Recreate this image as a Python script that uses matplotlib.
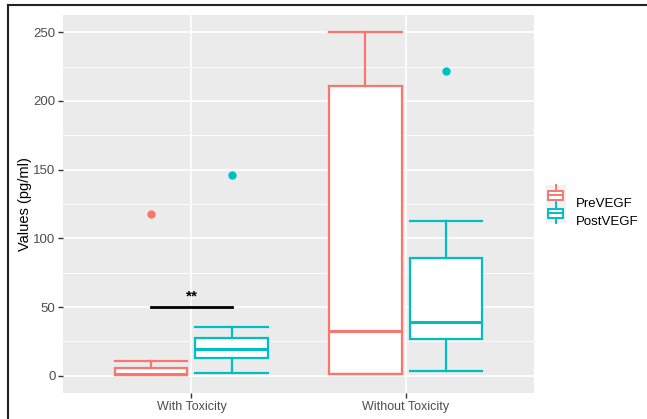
import numpy as np
import matplotlib.pyplot as plt
from matplotlib.lines import Line2D
from matplotlib.patches import Rectangle
from matplotlib.legend_handler import HandlerBase

plt.rcParams['font.family'] = ['Liberation Sans', 'DejaVu Sans']

groups = ["With Toxicity", "Without Toxicity"]
series = ["PreVEGF", "PostVEGF"]
colors = ["#F8766D", "#00BFC4"]

# box stats: low whisker, q1, median, q3, high whisker
pre_low = [0.5, 1.7]
pre_q1 = [0.8, 1.7]
pre_med = [1.5, 32.4]
pre_q3 = [6.0, 211]
pre_high = [10.5, 250]
pre_out = [[118], []]

post_low = [2.2, 3.4]
post_q1 = [13, 26.6]
post_med = [19.6, 39]
post_q3 = [27.5, 85.7]
post_high = [35.3, 113]
post_out = [[146], [222]]

sig_y = 50
sig_label = "**"


class BoxKey(HandlerBase):
    def __init__(self, color):
        super().__init__()
        self.color = color

    def create_artists(self, legend, orig, xd, yd, w, h, fs, trans):
        cx = xd + w / 2
        bg = Rectangle((xd, yd - 1.5), w, h + 3, facecolor="#F2F2F2", edgecolor="none", transform=trans)
        box = Rectangle((xd + w * 0.12, yd + h * 0.22), w * 0.76, h * 0.56, facecolor="white",
                        edgecolor=self.color, lw=1.4, transform=trans)
        med = Line2D([xd + w * 0.12, xd + w * 0.88], [yd + h / 2] * 2, color=self.color, lw=1.4, transform=trans)
        wt = Line2D([cx, cx], [yd + h * 0.78, yd + h + 1.5], color=self.color, lw=1.4, transform=trans)
        wb = Line2D([cx, cx], [yd - 1.5, yd + h * 0.22], color=self.color, lw=1.4, transform=trans)
        return [bg, wt, wb, box, med]


fig = plt.figure(figsize=(6.47, 4.19), dpi=100)
ax = fig.add_axes([0.0974, 0.062, 0.728, 0.902])
ax.set_facecolor("#EBEBEB")

x = np.arange(1, len(groups) + 1)
offset = 0.1875
width = 0.3375

def make_stats(lo, q1, med, q3, hi, out):
    return [dict(whislo=lo[i], q1=q1[i], med=med[i], q3=q3[i], whishi=hi[i], fliers=out[i])
            for i in range(len(lo))]

all_stats = [make_stats(pre_low, pre_q1, pre_med, pre_q3, pre_high, pre_out),
             make_stats(post_low, post_q1, post_med, post_q3, post_high, post_out)]

for k, (st, c) in enumerate(zip(all_stats, colors)):
    pos = x + (offset if k else -offset)
    ax.bxp(st, positions=pos, widths=width, patch_artist=True, manage_ticks=False,
           boxprops=dict(facecolor="white", edgecolor=c, lw=1.6),
           medianprops=dict(color=c, lw=2.2),
           whiskerprops=dict(color=c, lw=1.6),
           capprops=dict(color=c, lw=1.6),
           capwidths=width,
           flierprops=dict(marker="o", markerfacecolor=c, markeredgecolor=c, markersize=5),
           zorder=3)

# significance bar
ax.plot([x[0] - offset, x[0] + offset], [sig_y, sig_y], color="black", lw=2, zorder=4)
ax.text(x[0], sig_y + 3, sig_label, ha="center", va="bottom", fontsize=11, fontweight="bold")

ax.set_xlim(0.4, 2.6)
ax.set_ylim(-12.5, 262.5)
ax.set_yticks([0, 50, 100, 150, 200, 250])
ax.set_yticks([25, 75, 125, 175, 225], minor=True)
ax.set_xticks(x)
ax.set_xticklabels(groups)
ax.grid(True, which="major", color="white", lw=1.2)
ax.grid(True, which="minor", axis="y", color="white", lw=0.6)
ax.set_axisbelow(True)
for s in ax.spines.values():
    s.set_visible(False)
ax.tick_params(axis="both", which="major", length=3.5, width=1, color="#333333", labelcolor="#4D4D4D", pad=2)
ax.tick_params(axis="x", labelsize=9)
ax.tick_params(axis="y", labelsize=9.5)
ax.tick_params(axis="y", which="minor", length=0)
ax.set_ylabel("Values (pg/ml)", fontsize=10.5, labelpad=1)

handles = [Rectangle((0, 0), 1, 1) for _ in series]
ax.legend(handles, series, handler_map={h: BoxKey(c) for h, c in zip(handles, colors)},
          loc="center left", bbox_to_anchor=(1.0, 0.48), frameon=False, fontsize=9.5,
          handlelength=1.5, handleheight=1.5, labelspacing=0.15, handletextpad=0.8)

# page border (left and top)
fig.add_artist(Line2D([0.013, 0.013], [0, 0.988], color="#222222", lw=1.5, transform=fig.transFigure))
fig.add_artist(Line2D([0.013, 1], [0.988, 0.988], color="#222222", lw=1.5, transform=fig.transFigure))

fig.savefig("out.png", dpi=100)
